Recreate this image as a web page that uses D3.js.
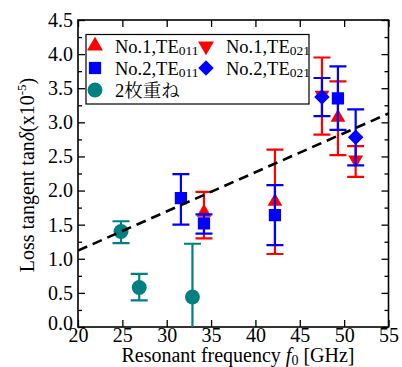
<!DOCTYPE html>
<html><head><meta charset="utf-8">
<script src="https://cdn.jsdelivr.net/npm/d3@7"></script>
<style>
body{margin:0;background:#fff;}
text{font-family:"Liberation Serif","Times New Roman","Noto Serif CJK JP","Noto Sans CJK JP",serif;}
</style></head>
<body><svg id="c" width="402" height="367"></svg>
<script>
// data: [frequency GHz, value, errTop, errBottom]
const no1TE011 = [[34.2,1.68,1.98,1.30],[42.2,1.84,2.60,1.07],[49.3,3.07,3.60,2.52]];
const no1TE021 = [[47.5,3.40,3.95,2.82],[51.3,2.45,2.65,2.20]];
const no2TE011 = [[31.6,1.89,2.24,1.50],[34.2,1.52,1.65,1.37],[42.2,1.64,2.08,1.20],[49.3,3.35,3.82,2.89]];
const no2TE021 = [[47.5,3.37,3.65,3.09],[51.3,2.78,3.19,2.37]];
const stacked2 = [[24.85,1.40,1.55,1.23],[26.9,0.58,0.78,0.39],[32.9,0.44,1.22,-0.35]];
const fitLine = [[20,1.12],[55,3.13]];
const xTicks = [20,25,30,35,40,45,50,55];
const yTicks = [0,0.5,1,1.5,2,2.5,3,3.5,4,4.5];
const yMinor = [0.25,0.75,1.25,1.75,2.25,2.75,3.25,3.75,4.25];

const svg = d3.select("#c");
const L=78, T=20, W=310.5, H=307;
const x = d3.scaleLinear().domain([20,55]).range([L,L+W]);
const y = d3.scaleLinear().domain([0,4.5]).range([T+H,T]);

svg.append("defs").append("clipPath").attr("id","clip")
  .append("rect").attr("x",L).attr("y",T).attr("width",W).attr("height",H);

// axes
const axB = svg.append("g").attr("transform",`translate(0,${T+H})`)
  .call(d3.axisBottom(x).tickValues(xTicks).tickSize(-7).tickPadding(3).tickFormat(d3.format("d")));
svg.append("g").attr("transform",`translate(0,${T})`)
  .call(d3.axisTop(x).tickValues(xTicks).tickSize(-7).tickFormat(""));
const axL = svg.append("g").attr("transform",`translate(${L},0)`)
  .call(d3.axisLeft(y).tickValues(yTicks).tickSize(-7).tickPadding(5).tickFormat(d3.format(".1f")));
svg.append("g").attr("transform",`translate(${L+W},0)`)
  .call(d3.axisRight(y).tickValues(yTicks).tickSize(-7).tickFormat(""));
svg.append("g").attr("transform",`translate(${L},0)`)
  .call(d3.axisLeft(y).tickValues(yMinor).tickSize(-4).tickFormat(""));
svg.append("g").attr("transform",`translate(${L+W},0)`)
  .call(d3.axisRight(y).tickValues(yMinor).tickSize(-4).tickFormat(""));
svg.selectAll(".domain").remove();
svg.selectAll(".tick line").attr("stroke","#000").attr("stroke-width",1.3);
svg.selectAll(".tick text").attr("font-size",20).attr("fill","#000")
  .style("font-family",'"Liberation Serif","Times New Roman",serif');
axB.selectAll(".tick text").attr("dy","0.6em");
axL.selectAll(".tick text").filter(d=>d===0).attr("dy","0.1em");
svg.append("rect").attr("x",L).attr("y",T).attr("width",W).attr("height",H)
  .attr("fill","none").attr("stroke","#000").attr("stroke-width",1.6);

const plot = svg.append("g").attr("clip-path","url(#clip)");

function symType(t){
  return t==="circle"?d3.symbolCircle:(t==="square"||t==="diamond")?d3.symbolSquare:d3.symbolTriangle;
}
function rot(t){ return t==="down"?" rotate(180)":t==="diamond"?" rotate(45)":""; }
function errBars(data,color){
  const g = plot.append("g").attr("stroke",color).attr("stroke-width",2.2).attr("fill","none");
  data.forEach(d=>{
    g.append("line").attr("x1",x(d[0])).attr("x2",x(d[0])).attr("y1",y(d[2])).attr("y2",y(d[3]));
    [d[2],d[3]].forEach(v=>g.append("line").attr("x1",x(d[0])-8.5).attr("x2",x(d[0])+8.5).attr("y1",y(v)).attr("y2",y(v)));
  });
}
function markers(data,color,type,size){
  plot.append("g").selectAll("path").data(data).join("path")
    .attr("transform",d=>`translate(${x(d[0])},${y(d[1])})`+rot(type))
    .attr("d",d3.symbol().type(symType(type)).size(size))
    .attr("fill",color);
}
const RED="#ff0000", BLUE="#0000ff", TEAL="#008080";
errBars(no1TE011,RED); errBars(no1TE021,RED);
markers(no1TE011,RED,"up",95); markers(no1TE021,RED,"down",95);
errBars(no2TE011,BLUE); errBars(no2TE021,BLUE);
markers(no2TE011,BLUE,"square",150); markers(no2TE021,BLUE,"diamond",120);
errBars(stacked2,TEAL); markers(stacked2,TEAL,"circle",175);

plot.append("path").datum(fitLine)
  .attr("d",d3.line().x(d=>x(d[0])).y(d=>y(d[1])))
  .attr("stroke","#000").attr("stroke-width",2.6).attr("stroke-dasharray","10,6").attr("fill","none");

// legend
const lg = svg.append("g");
lg.append("rect").attr("x",86).attr("y",34.5).attr("width",223).attr("height",69.5)
  .attr("fill","#fff").attr("stroke","#000").attr("stroke-width",1.2);
const legendItems = [
  {c:RED,t:"up",x:95,y:46,lab:"No.1,TE",sub:"011",s:110},
  {c:RED,t:"down",x:206,y:46,lab:"No.1,TE",sub:"021",s:110},
  {c:BLUE,t:"square",x:95,y:68,lab:"No.2,TE",sub:"011",s:150},
  {c:BLUE,t:"diamond",x:206,y:68,lab:"No.2,TE",sub:"021",s:120},
  {c:TEAL,t:"circle",x:95,y:90,lab:"2枚重ね",sub:"",s:175}
];
legendItems.forEach(it=>{
  lg.append("path").attr("transform",`translate(${it.x},${it.y})`+rot(it.t))
    .attr("d",d3.symbol().type(symType(it.t)).size(it.s)).attr("fill",it.c);
  const tx = lg.append("text").attr("x",it.x+20).attr("y",it.y+7).attr("font-size",18.5).attr("fill","#000");
  tx.append("tspan").text(it.lab);
  if(it.sub) tx.append("tspan").attr("font-size",13.5).attr("dy",2).text(it.sub);
});

// axis titles
const xt = svg.append("text").attr("x",238).attr("y",362).attr("text-anchor","middle").attr("font-size",20).attr("fill","#000");
xt.append("tspan").text("Resonant frequency ");
xt.append("tspan").attr("font-style","italic").text("f");
xt.append("tspan").attr("font-size",14).attr("dy",3).text("0");
xt.append("tspan").attr("dy",-3).text(" [GHz]");

const yt = svg.append("text").attr("transform","translate(34,175) rotate(-90)").attr("text-anchor","middle").attr("font-size",20).attr("fill","#000");
yt.append("tspan").text("Loss tangent tan");
yt.append("tspan").attr("font-style","italic").text("δ");
yt.append("tspan").text("(x10");
yt.append("tspan").attr("font-size",13).attr("dy",-8).text("-5");
yt.append("tspan").attr("dy",8).text(")");
</script></body></html>
